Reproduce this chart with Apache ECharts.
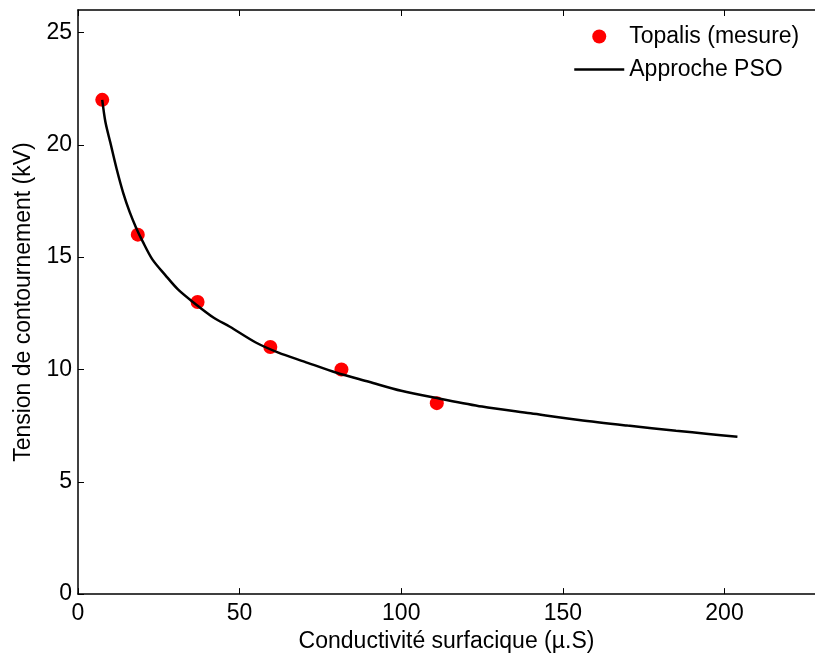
<!DOCTYPE html>
<html>
<head>
<meta charset="utf-8">
<script src="https://cdn.jsdelivr.net/npm/echarts@6/dist/echarts.min.js"></script>
<style>
html,body{margin:0;padding:0;background:#fff;}
#chart{width:815px;height:658px;}
</style>
</head>
<body>
<div id="chart"></div>
<script>
// Measured points (Topalis)
var measX = [7.5, 18.5, 37, 59.5, 81.5, 111];
var measY = [22, 16, 13, 11, 10, 8.5];
// PSO approximation curve
var curveX = [7.5, 8.5, 10, 12, 14, 16, 18, 20, 23, 27, 31, 36, 42, 47, 55, 62, 70, 80, 90, 100, 112, 125, 140, 155, 170, 185, 195, 204];
var curveY = [22.0, 21.0, 20.1, 18.9, 17.85, 17.0, 16.3, 15.7, 14.9, 14.2, 13.55, 12.95, 12.3, 11.9, 11.2, 10.75, 10.35, 9.85, 9.45, 9.05, 8.7, 8.35, 8.05, 7.75, 7.5, 7.27, 7.13, 7.0];
var xTicks = [0, 50, 100, 150, 200];
var yTicks = [0, 5, 10, 15, 20, 25];
var seriesNames = ['Topalis (mesure)', 'Approche PSO'];
var xName = 'Conductivité surfacique (µ.S)';
var yName = 'Tension de contournement (kV)';

var FONT = '"Liberation Sans", Arial, sans-serif';
var FS = 23;

function zip(a, b) { return a.map(function (v, i) { return [v, b[i]]; }); }

var chart = echarts.init(document.getElementById('chart'), null, {renderer: 'canvas'});
chart.setOption({
  animation: false,
  backgroundColor: '#fff',
  textStyle: {fontFamily: FONT},
  grid: {left: 78, right: 0, top: 10, bottom: 63, containLabel: false},
  legend: {
    orient: 'vertical',
    left: 573, top: 25,
    padding: 0,
    itemWidth: 50, itemHeight: 14, itemGap: 10,
    textStyle: {fontFamily: FONT, fontSize: FS, color: '#000', lineHeight: 23},
    data: [
      {name: seriesNames[0]},
      {name: seriesNames[1], itemStyle: {color: 'rgba(0,0,0,0)', borderWidth: 0, opacity: 0}, lineStyle: {color: '#000', width: 2.5, opacity: 1}}
    ]
  },
  xAxis: [{
    type: 'value', min: 0, max: 228, interval: 50,
    name: xName, nameLocation: 'middle', nameGap: 30,
    nameTextStyle: {fontFamily: FONT, fontSize: FS, color: '#000'},
    axisLine: {show: true, onZero: false, lineStyle: {color: '#000', width: 1.5}},
    axisTick: {show: true, inside: true, length: 6, lineStyle: {color: '#000'}},
    axisLabel: {
      fontFamily: FONT, fontSize: FS, color: '#000', margin: 8,
      showMaxLabel: false,
      formatter: function (v) { return xTicks.indexOf(v) >= 0 ? String(v) : ''; }
    },
    splitLine: {show: false}
  }, {
    type: 'value', min: 0, max: 228, interval: 50, position: 'top',
    axisLine: {show: true, onZero: false, lineStyle: {color: '#000', width: 1.5}},
    axisTick: {show: true, inside: true, length: 6, lineStyle: {color: '#000'}},
    axisLabel: {show: false},
    splitLine: {show: false}
  }],
  yAxis: [{
    type: 'value', min: 0, max: 26, interval: 5,
    name: yName, nameLocation: 'middle', nameGap: 40, nameRotate: 90,
    nameTextStyle: {fontFamily: FONT, fontSize: FS, color: '#000'},
    axisLine: {show: true, onZero: false, lineStyle: {color: '#000', width: 1.5}},
    axisTick: {show: true, inside: true, length: 6, lineStyle: {color: '#000'}},
    axisLabel: {
      fontFamily: FONT, fontSize: FS, color: '#000', margin: 6,
      showMaxLabel: false,
      formatter: function (v) { return yTicks.indexOf(v) >= 0 ? String(v) : ''; }
    },
    splitLine: {show: false}
  }],
  series: [{
    name: seriesNames[0],
    type: 'scatter',
    data: zip(measX, measY),
    symbol: 'circle',
    symbolSize: 14,
    itemStyle: {color: '#ff0000', opacity: 1},
    z: 3
  }, {
    name: seriesNames[1],
    type: 'line',
    data: zip(curveX, curveY),
    symbol: 'none',
    smooth: 0.3,
    lineStyle: {color: '#000', width: 2.5},
    itemStyle: {color: '#000'},
    z: 4
  }]
});
</script>
</body>
</html>
